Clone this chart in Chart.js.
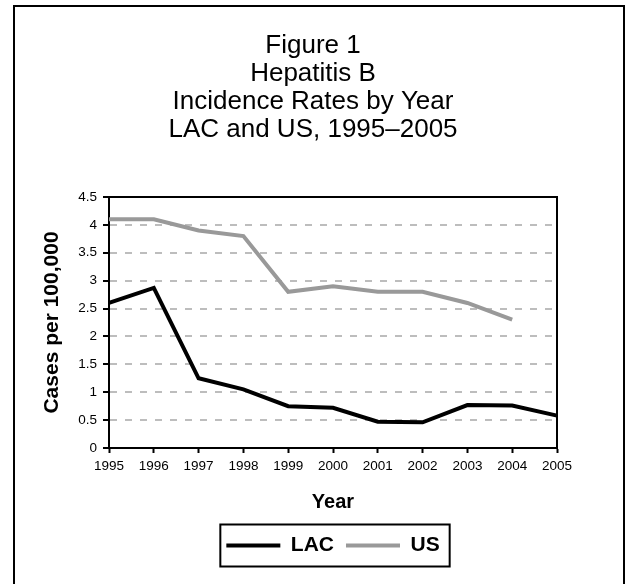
<!DOCTYPE html>
<html>
<head>
<meta charset="utf-8">
<title>Hepatitis B Incidence Rates by Year</title>
<script src="https://cdn.jsdelivr.net/npm/chart.js@4/dist/chart.umd.min.js"></script>
<style>
  html, body { margin: 0; padding: 0; background: #ffffff; }
  #wrap { width: 626px; height: 584px; }
</style>
</head>
<body>
<div id="wrap"><canvas id="chart" width="626" height="584"></canvas></div>
<script>
// Reporting years along the x axis
const years = ['1995', '1996', '1997', '1998', '1999', '2000', '2001', '2002', '2003', '2004', '2005'];
// Cases per 100,000, Los Angeles County
const lacRates = [2.6, 2.87, 1.25, 1.05, 0.75, 0.72, 0.47, 0.46, 0.77, 0.76, 0.58];
// Cases per 100,000, United States (2005 not yet reported)
const usRates = [4.1, 4.1, 3.9, 3.8, 2.8, 2.9, 2.8, 2.8, 2.6, 2.3, null];
const seriesNames = ['LAC', 'US'];
const titleLines = ['Figure 1', 'Hepatitis B', 'Incidence Rates by Year', 'LAC and US, 1995\u20132005'];
const yAxisTitle = 'Cases per 100,000';
const xAxisTitle = 'Year';

const FONT = '"Liberation Sans", Arial, Helvetica, sans-serif';

// Outer frame around the whole figure
const framePlugin = {
  id: 'figureFrame',
  afterDraw(chart) {
    const ctx = chart.ctx;
    ctx.save();
    ctx.strokeStyle = '#000';
    ctx.lineWidth = 2;
    ctx.strokeRect(14, 6, 610, 700);
    ctx.restore();
  }
};

// Top and right edges of the plot area
const plotBoxPlugin = {
  id: 'plotBox',
  afterDatasetsDraw(chart) {
    const { ctx, chartArea: a } = chart;
    ctx.save();
    ctx.strokeStyle = '#000';
    ctx.lineWidth = 2;
    ctx.beginPath();
    ctx.moveTo(a.left, a.top);
    ctx.lineTo(a.right, a.top);
    ctx.lineTo(a.right, a.bottom);
    ctx.stroke();
    ctx.restore();
  }
};

// Border around the legend entries
const legendBoxPlugin = {
  id: 'legendBox',
  afterDraw(chart) {
    const lg = chart.legend;
    if (!lg || !lg.legendHitBoxes || !lg.legendHitBoxes.length) return;
    const boxes = lg.legendHitBoxes;
    const first = boxes[0];
    const last = boxes[boxes.length - 1];
    const cy = first.top + first.height / 2;
    const x0 = first.left - 6;
    const x1 = last.left + last.width + 10;
    const ctx = chart.ctx;
    ctx.save();
    ctx.strokeStyle = '#000';
    ctx.lineWidth = 2;
    ctx.strokeRect(x0, cy - 21, x1 - x0, 42);
    ctx.restore();
  }
};

new Chart(document.getElementById('chart'), {
  type: 'line',
  data: {
    labels: years,
    datasets: [
      {
        label: seriesNames[0],
        data: lacRates,
        borderColor: '#000000',
        backgroundColor: '#000000',
        borderWidth: 4,
        pointRadius: 0,
        tension: 0,
        fill: false
      },
      {
        label: seriesNames[1],
        data: usRates,
        borderColor: '#999999',
        backgroundColor: '#999999',
        borderWidth: 4,
        pointRadius: 0,
        tension: 0,
        fill: false,
        spanGaps: false
      }
    ]
  },
  options: {
    responsive: false,
    animation: false,
    devicePixelRatio: 1,
    layout: { padding: { left: 0, right: 0, top: 0, bottom: 18 } },
    plugins: {
      tooltip: { enabled: false },
      title: {
        display: true,
        text: titleLines,
        color: '#000',
        font: { family: FONT, size: 26, weight: 'normal', lineHeight: 28 / 26 },
        padding: { top: 32, bottom: 53 }
      },
      legend: {
        display: true,
        position: 'bottom',
        fullSize: false,
        labels: {
          color: '#000',
          font: { family: FONT, size: 21, weight: 'bold' },
          usePointStyle: true,
          pointStyle: 'line',
          pointStyleWidth: 54,
          padding: 12,
          generateLabels: (chart) => chart.data.datasets.map((ds, i) => ({
            text: ds.label,
            strokeStyle: ds.borderColor,
            fillStyle: ds.borderColor,
            lineWidth: ds.borderWidth,
            lineCap: 'butt',
            pointStyle: 'line',
            fontColor: '#000',
            hidden: false,
            datasetIndex: i
          }))
        }
      }
    },
    scales: {
      x: {
        type: 'category',
        offset: false,
        grid: {
          display: true,
          drawOnChartArea: false,
          drawTicks: true,
          tickLength: 5,
          tickColor: '#000',
          tickWidth: 2
        },
        border: { display: true, color: '#000', width: 2 },
        ticks: {
          color: '#000',
          font: { family: FONT, size: 13.5 },
          padding: 5,
          maxRotation: 0,
          autoSkip: false
        },
        title: {
          display: true,
          text: xAxisTitle,
          color: '#000',
          font: { family: FONT, size: 20, weight: 'bold', lineHeight: 1.2 },
          padding: { top: 0, bottom: 9 }
        },
        afterFit: (s) => { s.height = 75; }
      },
      y: {
        min: 0,
        max: 4.5,
        grid: {
          color: (c) => (c.tick && (c.tick.value === 0 || c.tick.value === 4.5)) ? 'rgba(0,0,0,0)' : '#bdbdbd',
          lineWidth: 2,
          drawTicks: true,
          tickLength: 6,
          tickColor: '#000',
          tickWidth: 2,
          tickBorderDash: []
        },
        border: { display: true, color: '#000', width: 2, dash: [7, 8] },
        ticks: {
          stepSize: 0.5,
          color: '#000',
          font: { family: FONT, size: 13.5 },
          padding: 6,
          callback: (v) => String(v)
        },
        title: {
          display: true,
          text: yAxisTitle,
          color: '#000',
          font: { family: FONT, size: 21, weight: 'bold', lineHeight: 1.2 },
          padding: { top: 39.4, bottom: 0 }
        },
        afterFit: (s) => { s.width = 109; }
      },
      spacer: {
        type: 'linear',
        position: 'right',
        display: true,
        grid: { display: false, drawTicks: false },
        border: { display: false },
        ticks: { display: false },
        afterFit: (s) => { s.width = 69; }
      }
    }
  },
  plugins: [framePlugin, plotBoxPlugin, legendBoxPlugin]
});
</script>
</body>
</html>
